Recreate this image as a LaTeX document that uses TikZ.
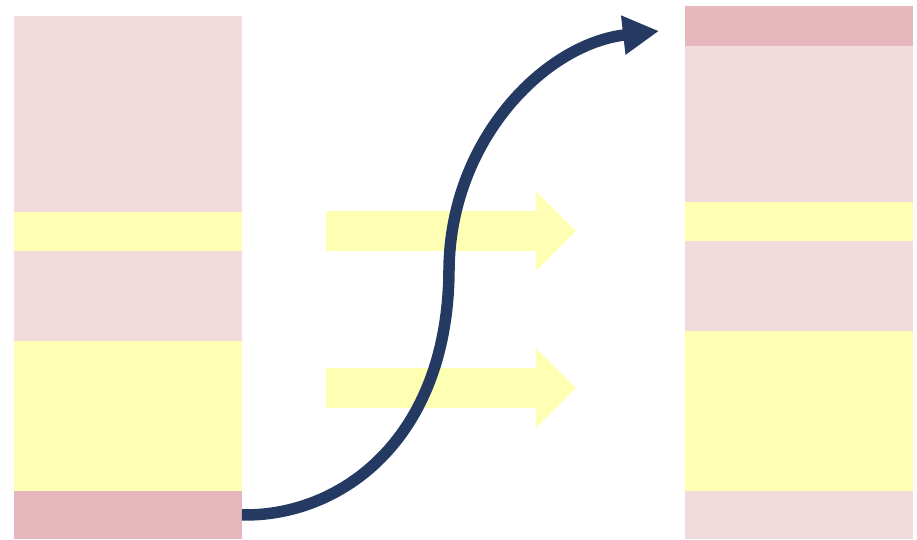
\documentclass[tikz,border=0pt]{standalone}
\usetikzlibrary{arrows.meta,positioning}
\definecolor{palepink}{HTML}{F1DBDD}
\definecolor{darkpink}{HTML}{E6B8BE}
\definecolor{paleyellow}{HTML}{FFFFB3}
\definecolor{navy}{HTML}{243A62}

\begin{document}
\begin{tikzpicture}[
 x=0.02cm,y=-0.02cm,
 node distance=0pt,
 band/.style={fill=#1,inner sep=0pt,outer sep=0pt,minimum width=4.56cm},
 bigarrow/.style={fill=paleyellow},
 curve/.style={-{Triangle[length=7.2mm,width=7.4mm]},line width=2.3mm,draw=navy}]
\useasboundingbox (0,0) rectangle (917,539);
% left column
\node[band=palepink,minimum height=3.92cm,anchor=north west] (l1) at (14,16) {};
\node[band=paleyellow,minimum height=0.78cm,below=of l1] (l2) {};
\node[band=palepink,minimum height=1.8cm,below=of l2] (l3) {};
\node[band=paleyellow,minimum height=3cm,below=of l3] (l4) {};
\node[band=darkpink,minimum height=0.96cm,below=of l4] (l5) {};
% right column
\node[band=darkpink,minimum height=0.8cm,anchor=north west] (r1) at (685,6) {};
\node[band=palepink,minimum height=3.12cm,below=of r1] (r2) {};
\node[band=paleyellow,minimum height=0.78cm,below=of r2] (r3) {};
\node[band=palepink,minimum height=1.8cm,below=of r3] (r4) {};
\node[band=paleyellow,minimum height=3.2cm,below=of r4] (r5) {};
\node[band=palepink,minimum height=0.96cm,below=of r5] (r6) {};
% block arrows
\foreach \y in {231,388}
 \fill[bigarrow] (326,\y-20) -- (536,\y-20) -- (536,\y-40) -- (576,\y)
  -- (536,\y+40) -- (536,\y+20) -- (326,\y+20) -- cycle;
% s-curve
\coordinate (tip) at (659,31);
\draw[curve] (l5.east) .. controls (340,517) and (448,440) .. (449,270)
 .. controls (450,140) and (545,44) .. (tip);
\end{tikzpicture}
\end{document}
